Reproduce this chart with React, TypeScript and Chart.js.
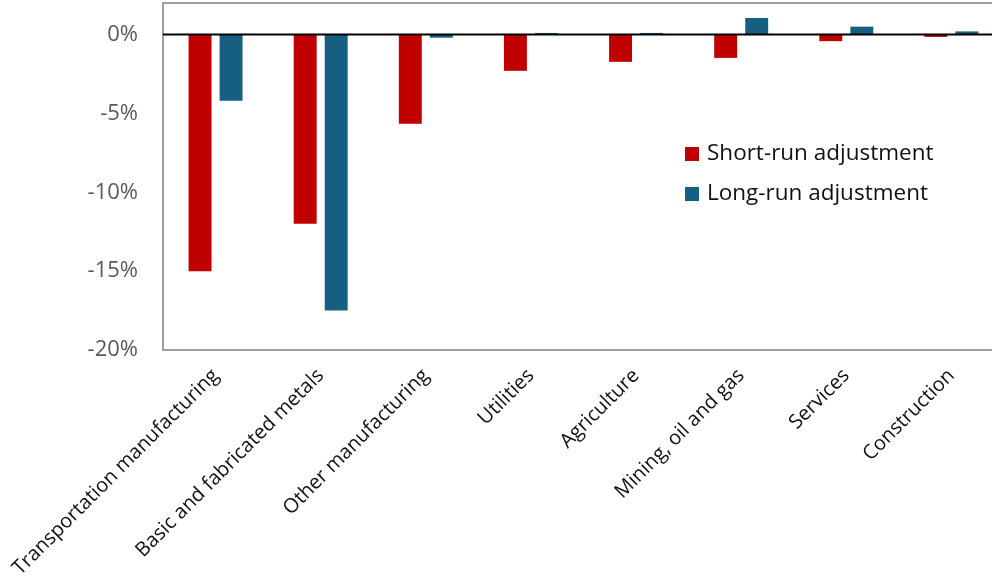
import React, { useEffect, useRef } from "react";
import { Chart, registerables } from "chart.js";

Chart.register(...registerables);

const categories = [
  "Transportation manufacturing",
  "Basic and fabricated metals",
  "Other manufacturing",
  "Utilities",
  "Agriculture",
  "Mining, oil and gas",
  "Services",
  "Construction",
];
const shortRun = [-15.0, -12.0, -5.65, -2.3, -1.73, -1.48, -0.42, -0.15];
const longRun = [-4.2, -17.5, -0.2, 0.1, 0.1, 1.05, 0.5, 0.2];
const seriesNames = ["Short-run adjustment", "Long-run adjustment"];
const seriesColors = ["#C00000", "#175F80"];
const yTicks = [-20, -15, -10, -5, 0];

const FONT = "'Open Sans', 'Noto Sans', sans-serif";

const framePlugin = {
  id: "frame",
  afterDatasetsDraw(chart: any) {
    const { ctx, chartArea, scales } = chart;
    const { left, right, top, bottom } = chartArea;
    ctx.save();
    ctx.strokeStyle = "#808080";
    ctx.lineWidth = 1.5;
    ctx.beginPath();
    ctx.moveTo(right + 5, top);
    ctx.lineTo(left, top);
    ctx.lineTo(left, bottom);
    ctx.lineTo(right + 5, bottom);
    ctx.stroke();
    const y0 = scales.y.getPixelForValue(0);
    ctx.strokeStyle = "#000000";
    ctx.lineWidth = 2;
    ctx.beginPath();
    ctx.moveTo(left, y0);
    ctx.lineTo(right + 5, y0);
    ctx.stroke();
    ctx.restore();
  },
  afterDraw(chart: any) {
    const { ctx } = chart;
    ctx.save();
    chart.data.datasets.forEach((ds: any, i: number) => {
      const y = 147 + i * 40;
      ctx.fillStyle = ds.backgroundColor;
      ctx.fillRect(685, y, 14, 14);
      ctx.fillStyle = "#111111";
      ctx.font = `22.5px ${FONT}`;
      ctx.textBaseline = "middle";
      ctx.textAlign = "left";
      ctx.fillText(ds.label, 707, y + 7);
    });
    ctx.restore();
  },
};

export default function App() {
  const ref = useRef<HTMLCanvasElement>(null);
  useEffect(() => {
    if (!ref.current) return;
    const chart = new Chart(ref.current, {
      type: "bar",
      data: {
        labels: categories,
        datasets: [
          { label: seriesNames[0], data: shortRun, backgroundColor: seriesColors[0] },
          { label: seriesNames[1], data: longRun, backgroundColor: seriesColors[1] },
        ],
      },
      options: {
        animation: false,
        responsive: false,
        maintainAspectRatio: false,
        layout: { padding: { top: 3, left: 0, right: 0, bottom: 0 } },
        datasets: { bar: { categoryPercentage: 0.59, barPercentage: 0.74 } },
        plugins: { legend: { display: false }, tooltip: { enabled: false }, title: { display: false } },
        scales: {
          x: {
            grid: { display: false, drawTicks: false },
            border: { display: false },
            ticks: {
              maxRotation: 45,
              minRotation: 45,
              autoSkip: false,
              padding: 14,
              color: "#111111",
              font: { family: FONT, size: 20 },
            },
            afterFit(scale: any) {
              scale.height = 227;
              scale.paddingLeft = 0;
              scale.paddingRight = 0;
            },
          },
          y: {
            min: -20,
            max: 2,
            grid: { display: false, drawTicks: false },
            border: { display: false },
            afterBuildTicks(scale: any) {
              scale.ticks = yTicks.map((v) => ({ value: v }));
            },
            ticks: {
              padding: 25,
              color: "#595959",
              font: { family: FONT, size: 22 },
              callback: (v: any) => `${v}%`,
            },
            afterFit(scale: any) {
              scale.width = 163;
              scale.paddingTop = 0;
              scale.paddingBottom = 0;
            },
          },
        },
      },
      plugins: [framePlugin],
    });
    return () => chart.destroy();
  }, []);
  return (
    <div style={{ position: "fixed", left: 0, top: 0, width: 992, height: 577, overflow: "hidden", background: "#fff" }}>
      <canvas ref={ref} width={1004} height={577} style={{ display: "block" }} />
    </div>
  );
}
